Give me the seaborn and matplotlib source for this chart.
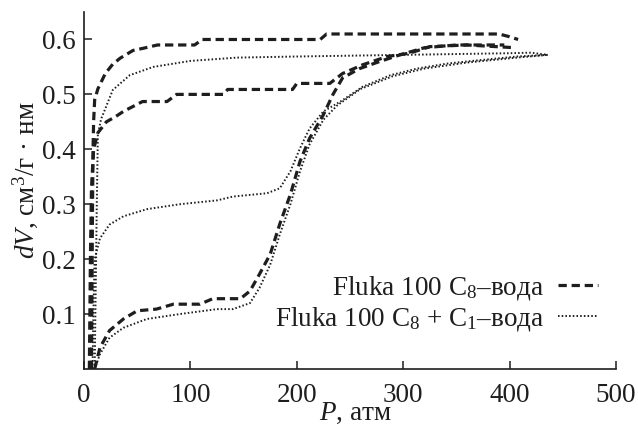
import matplotlib
matplotlib.use("Agg")
import matplotlib.pyplot as plt
import seaborn as sns

# Fluka 100 C8 - water (dashed)
p_c8_des1 = [7, 7.5, 8, 8.5, 9, 10, 13, 20, 27, 34, 46, 58, 69, 104, 111, 150, 222, 228, 300, 390, 400, 408]
dv_c8_des1 = [0.0, 0.15, 0.3, 0.4, 0.45, 0.49, 0.51, 0.538, 0.555, 0.566, 0.58, 0.585, 0.59, 0.59, 0.60, 0.60,
              0.60, 0.61, 0.61, 0.61, 0.605, 0.60]
p_c8_des2 = [5, 6, 7, 9, 13, 21, 30, 37, 55, 78, 87, 131, 135, 196, 200, 231, 243, 262, 285, 306, 325, 360, 405]
dv_c8_des2 = [0.0, 0.2, 0.33, 0.4, 0.43, 0.45, 0.46, 0.469, 0.487, 0.487, 0.50, 0.50, 0.509, 0.509, 0.52, 0.52,
              0.538, 0.554, 0.569, 0.575, 0.587, 0.59, 0.585]
p_c8_ads = [10, 15, 24, 37, 50, 68, 84, 109, 121, 147, 156, 165, 175, 184, 194, 203, 212, 225, 234, 243, 259,
            278, 297, 320, 350, 395]
dv_c8_ads = [0.0, 0.039, 0.07, 0.091, 0.106, 0.109, 0.118, 0.118, 0.128, 0.128, 0.142, 0.173, 0.209, 0.264,
             0.318, 0.378, 0.42, 0.463, 0.50, 0.53, 0.547, 0.56, 0.572, 0.585, 0.59, 0.59]

# Fluka 100 C8 + C1 - water (dotted)
p_c8c1_des = [10, 11, 12, 13, 16, 20, 27, 43, 65, 100, 144, 200, 300, 400, 420, 436]
dv_c8c1_des = [0.0, 0.15, 0.3, 0.427, 0.455, 0.474, 0.508, 0.535, 0.55, 0.561, 0.567, 0.569, 0.572, 0.575,
               0.576, 0.572]
p_c8c1_mid = [8, 9, 10, 15, 24, 37, 59, 90, 125, 140, 172, 184, 194, 203, 212, 225, 241, 262, 288, 313, 341,
              360, 407, 436]
dv_c8c1_mid = [0.0, 0.12, 0.2, 0.238, 0.263, 0.278, 0.291, 0.30, 0.307, 0.314, 0.32, 0.329, 0.36, 0.402, 0.438,
               0.469, 0.487, 0.514, 0.535, 0.547, 0.556, 0.56, 0.569, 0.572]
p_c8c1_ads = [10, 15, 24, 37, 59, 90, 125, 140, 156, 165, 175, 184, 194, 203, 212, 225, 238, 260, 290, 320, 360,
              407, 436]
dv_c8c1_ads = [0.0, 0.027, 0.057, 0.075, 0.091, 0.10, 0.109, 0.109, 0.12, 0.148, 0.19, 0.245, 0.30, 0.36, 0.409,
               0.454, 0.48, 0.51, 0.533, 0.547, 0.558, 0.567, 0.572]

x_ticks = [0, 100, 200, 300, 400, 500]
y_ticks = [0.1, 0.2, 0.3, 0.4, 0.5, 0.6]

sns.set_style("ticks")
plt.rcParams["font.family"] = ["Liberation Serif", "DejaVu Serif"]
plt.rcParams["mathtext.fontset"] = "custom"
plt.rcParams["mathtext.rm"] = "Liberation Serif"
plt.rcParams["mathtext.it"] = "Liberation Serif:italic"

ink = "#1e1e1e"
fs = 19.5
dashed = dict(color=ink, linewidth=2.3, linestyle=(0, (2.6, 1.5)))
dotted = dict(color=ink, linewidth=1.4, linestyle=(0, (0.8, 1.1)))

fig = plt.figure(figsize=(6.38, 4.28), dpi=100)
ax = fig.add_axes([0.1317, 0.1379, 0.8338, 0.834])

sns.lineplot(x=p_c8_des1, y=dv_c8_des1, sort=False, ax=ax, label="Fluka 100 C$_8$–вода", **dashed)
sns.lineplot(x=p_c8_des2, y=dv_c8_des2, sort=False, ax=ax, **dashed)
sns.lineplot(x=p_c8_ads, y=dv_c8_ads, sort=False, ax=ax, **dashed)
sns.lineplot(x=p_c8c1_des, y=dv_c8c1_des, sort=False, ax=ax, label="Fluka 100 C$_8$ + C$_1$–вода", **dotted)
sns.lineplot(x=p_c8c1_mid, y=dv_c8c1_mid, sort=False, ax=ax, **dotted)
sns.lineplot(x=p_c8c1_ads, y=dv_c8c1_ads, sort=False, ax=ax, **dotted)

ax.set_xlim(0, 500)
ax.set_ylim(0, 0.65)
ax.set_xticks(x_ticks)
ax.set_yticks(y_ticks)
ax.set_xticklabels([str(t) for t in x_ticks])
ax.set_yticklabels([f"{t:.1f}" for t in y_ticks])
ax.tick_params(direction="in", length=6, width=1.1, labelsize=fs, colors=ink)
ax.tick_params(axis="y", pad=6)
ax.tick_params(axis="x", pad=10)
for side in ["top", "right"]:
    ax.spines[side].set_visible(False)
for side in ["left", "bottom"]:
    ax.spines[side].set_linewidth(1.2)
    ax.spines[side].set_color(ink)

ax.set_xlabel("$P$, атм", fontsize=fs, color=ink)
ax.set_ylabel("$dV$, см$^3$/г · нм", fontsize=fs, color=ink)
ax.xaxis.set_label_coords(0.51, -0.09)
ax.yaxis.set_label_coords(-0.082, 0.53)

leg = ax.legend(loc="lower right", bbox_to_anchor=(0.987, 0.071), frameon=False, markerfirst=False,
                fontsize=fs, handlelength=1.5, handletextpad=0.5, labelspacing=0.1, borderaxespad=0)
for t in leg.get_texts():
    t.set_color(ink)

fig.savefig("out.png", dpi=100)
